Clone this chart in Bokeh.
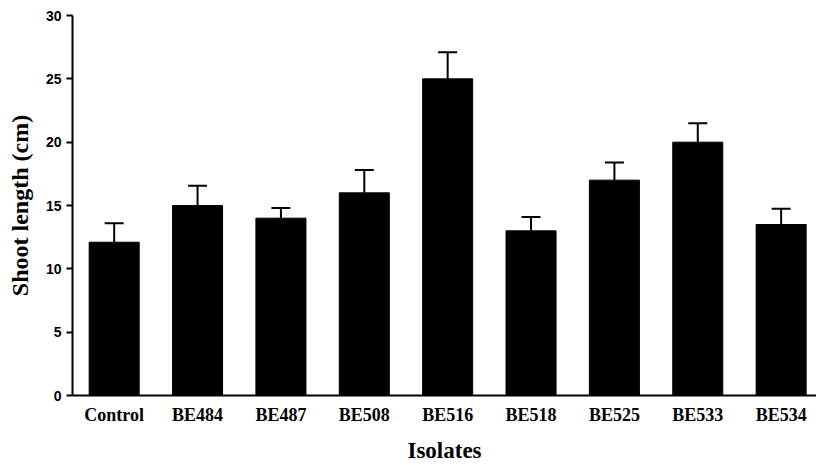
from bokeh.plotting import figure
from bokeh.models import Range1d, FixedTicker, ColumnDataSource, Whisker, TeeHead
from bokeh.embed import file_html
from bokeh.resources import INLINE

isolates = ["Control", "BE484", "BE487", "BE508", "BE516", "BE518", "BE525", "BE533", "BE534"]
shoot_length = [12.1, 15.0, 14.0, 16.0, 25.0, 13.0, 17.0, 20.0, 13.5]
std_error = [1.5, 1.55, 0.8, 1.8, 2.1, 1.1, 1.4, 1.5, 1.25]
y_ticks = [0, 5, 10, 15, 20, 25, 30]

xs = list(range(len(isolates)))
upper = [m + e for m, e in zip(shoot_length, std_error)]
src = ColumnDataSource(data=dict(x=xs, top=shoot_length, upper=upper))

p = figure(width=816, height=465, output_backend="svg", toolbar_location=None,
           x_range=Range1d(-0.5, 8.424), y_range=Range1d(0, 30),
           min_border_left=72, min_border_right=0, min_border_top=15, min_border_bottom=70)

p.vbar(x="x", top="top", width=0.6, source=src, fill_color="black", line_color="black")
w = Whisker(base="x", lower="top", upper="upper", source=src, dimension="height",
            line_color="black", line_width=2,
            upper_head=TeeHead(size=19, line_color="black", line_width=2), lower_head=None)
p.add_layout(w)

p.grid.visible = False
p.outline_line_color = None
p.background_fill_color = "white"
p.border_fill_color = "white"

xa = p.xaxis[0]
xa.ticker = FixedTicker(ticks=xs)
xa.major_label_overrides = {i: n for i, n in enumerate(isolates)}
xa.major_tick_in = 0
xa.major_tick_out = 0
xa.minor_tick_in = 0
xa.minor_tick_out = 0
xa.axis_line_width = 2
xa.axis_line_color = "black"
xa.major_label_text_font = "Liberation Serif"
xa.major_label_text_font_style = "bold"
xa.major_label_text_font_size = "18px"
xa.major_label_text_color = "black"
xa.major_label_standoff = 9
xa.axis_label = "Isolates"
xa.axis_label_text_font = "Liberation Serif"
xa.axis_label_text_font_style = "bold"
xa.axis_label_text_font_size = "23px"
xa.axis_label_text_color = "black"
xa.axis_label_standoff = 10

ya = p.yaxis[0]
ya.ticker = FixedTicker(ticks=y_ticks)
ya.major_tick_in = 0
ya.major_tick_out = 6
ya.major_tick_line_width = 2
ya.minor_tick_in = 0
ya.minor_tick_out = 0
ya.axis_line_width = 2
ya.axis_line_color = "black"
ya.major_label_text_font = "Liberation Sans"
ya.major_label_text_font_style = "bold"
ya.major_label_text_font_size = "14px"
ya.major_label_text_color = "black"
ya.major_label_standoff = 5
ya.axis_label = "Shoot length (cm)"
ya.axis_label_text_font = "Liberation Serif"
ya.axis_label_text_font_style = "bold"
ya.axis_label_text_font_size = "24px"
ya.axis_label_text_color = "black"
ya.axis_label_standoff = 10

open("out.html", "w").write(file_html(p, INLINE))
